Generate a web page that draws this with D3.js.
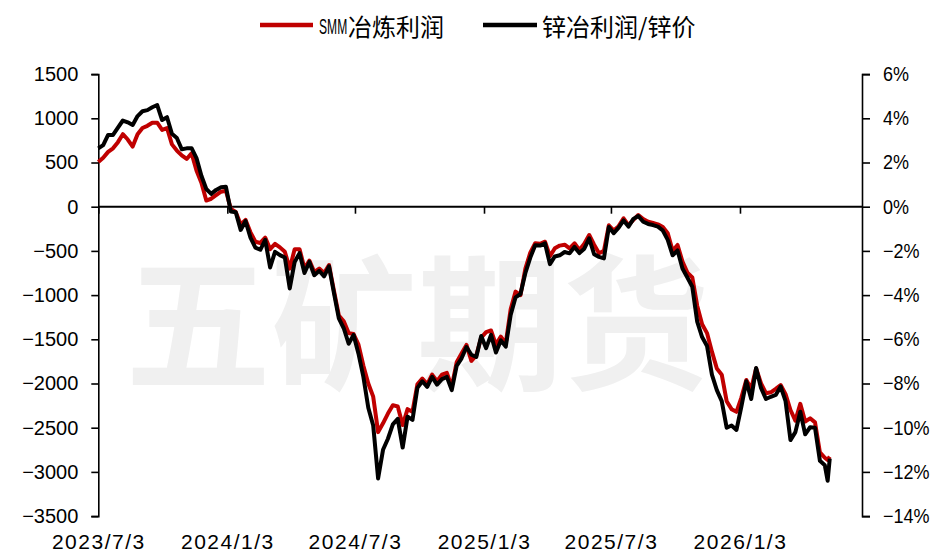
<!DOCTYPE html>
<html>
  <head>
    <meta charset="utf-8" />
    <title>锌冶炼利润</title>
    <style>
      body { margin: 0; background: #fff; }
      svg { display: block; }
      .tick text { font-family: "Liberation Sans", Arial, sans-serif; fill: #000; }
    </style>
  </head>
  <body>
    <svg id="chart" width="930" height="552"></svg>
    <script src="https://d3js.org/d3.v7.min.js"></script>
    <script>
      // weekly readings (dates shared by both series)
      const dates = [
        "2023-07-03","2023-07-10","2023-07-17","2023-07-24","2023-07-31","2023-08-07","2023-08-14","2023-08-21","2023-08-28",
        "2023-09-04","2023-09-11","2023-09-18","2023-09-25","2023-10-02","2023-10-09","2023-10-16","2023-10-23","2023-10-30",
        "2023-11-06","2023-11-13","2023-11-20","2023-11-27","2023-12-04","2023-12-11","2023-12-18","2023-12-25",
        "2024-01-01","2024-01-08","2024-01-15","2024-01-22","2024-01-29","2024-02-05","2024-02-12","2024-02-19","2024-02-26",
        "2024-03-04","2024-03-11","2024-03-18","2024-03-25","2024-04-01","2024-04-08","2024-04-15","2024-04-22","2024-04-29",
        "2024-05-06","2024-05-13","2024-05-20","2024-05-27","2024-06-03","2024-06-10","2024-06-17","2024-06-24",
        "2024-07-01","2024-07-08","2024-07-15","2024-07-22","2024-07-29","2024-08-05","2024-08-12","2024-08-19","2024-08-26",
        "2024-09-02","2024-09-09","2024-09-16","2024-09-23","2024-09-30","2024-10-07","2024-10-14","2024-10-21","2024-10-28",
        "2024-11-04","2024-11-11","2024-11-18","2024-11-25","2024-12-02","2024-12-09","2024-12-16","2024-12-23","2024-12-30",
        "2025-01-06","2025-01-13","2025-01-20","2025-01-27","2025-02-03","2025-02-10","2025-02-17","2025-02-24",
        "2025-03-03","2025-03-10","2025-03-17","2025-03-24","2025-03-31","2025-04-07","2025-04-14","2025-04-21","2025-04-28",
        "2025-05-05","2025-05-12","2025-05-19","2025-05-26","2025-06-02","2025-06-09","2025-06-16","2025-06-23","2025-06-30",
        "2025-07-07","2025-07-14","2025-07-21","2025-07-28","2025-08-04","2025-08-11","2025-08-18","2025-08-25",
        "2025-09-01","2025-09-08","2025-09-15","2025-09-22","2025-09-29","2025-10-06","2025-10-13","2025-10-20","2025-10-27",
        "2025-11-03","2025-11-10","2025-11-17","2025-11-24","2025-12-01","2025-12-08","2025-12-15","2025-12-22","2025-12-29",
        "2026-01-05","2026-01-12","2026-01-19","2026-01-26","2026-02-02","2026-02-09","2026-02-16","2026-02-23",
        "2026-03-02","2026-03-09","2026-03-16","2026-03-23","2026-03-30","2026-04-06","2026-04-13","2026-04-20","2026-04-27",
        "2026-05-04","2026-05-08","2026-05-11"
      ];

      // SMM冶炼利润 (元/吨, left axis)
      const smmProfit = [
        505, 554, 620, 660, 730, 820, 760, 680, 820,
        890, 915, 950, 950, 868, 890, 705, 635, 580,
        540, 604, 410, 270, 70, 90, 130, 170,
        180, -25, -60, -200, -150, -290, -396, -410, -350,
        -480, -420, -460, -510, -700, -480, -480, -700, -610,
        -740, -700, -750, -660, -950, -1230, -1295, -1430,
        -1440, -1560, -1800, -2000, -2149, -2550, -2450, -2340, -2245,
        -2260, -2470, -2290, -2320, -2010, -1945, -2010, -1900, -1975,
        -1900, -1880, -2036, -1760, -1660, -1564, -1745, -1680, -1480,
        -1420, -1400, -1560, -1470, -1546, -1160, -960, -1000,
        -700, -520, -414, -420, -396, -560, -470, -440, -430,
        -471, -414, -490, -420, -320, -430, -527, -500, -210,
        -270, -220, -131, -210, -150, -94, -140, -170,
        -185, -200, -230, -300, -500, -433, -620, -745, -800,
        -1120, -1330, -1430, -1640, -1830, -1900, -2200, -2290, -2320,
        -2160, -1960, -2060, -1830, -1998, -2110, -2100, -2060,
        -2017, -2120, -2300, -2420, -2230, -2430, -2394, -2440, -2780,
        -2840, -2865, -2827
      ];

      // 锌冶利润/锌价 (%, right axis)
      const profitRatio = [
        2.64, 2.79, 3.25, 3.25, 3.58, 3.9, 3.82, 3.7, 4.1,
        4.32, 4.37, 4.5, 4.6, 3.92, 4.05, 3.3, 3.11, 2.6,
        2.64, 2.65, 2.2, 1.4, 0.8, 0.58, 0.76, 0.88,
        0.9, -0.22, -0.25, -1.05, -0.65, -1.4, -1.85, -1.95, -1.5,
        -2.75, -2.04, -2.19, -2.3, -3.7, -2.5, -2.1, -3.0, -2.5,
        -3.1, -2.9, -3.15, -2.7, -3.9, -5.05, -5.5, -6.2,
        -5.8, -6.65, -7.7, -9.1, -9.9, -12.3, -11.0, -10.5, -9.85,
        -9.6, -10.9, -9.5, -9.65, -8.2, -7.9, -8.15, -7.7, -8.05,
        -7.8, -7.7, -8.3, -7.2, -6.86, -6.35, -6.7, -6.8, -5.85,
        -6.4, -5.8, -6.6, -6.05, -6.33, -4.9, -4.1, -3.95,
        -3.0, -2.3, -1.74, -1.76, -1.66, -2.6, -2.25, -2.2, -2.05,
        -2.11, -1.82, -2.1, -1.9, -1.43, -2.15, -2.27, -2.34, -0.92,
        -1.2, -0.95, -0.62, -0.9, -0.55, -0.42, -0.68, -0.78,
        -0.83, -0.9, -1.08, -1.5, -2.2, -1.98, -2.8, -3.2, -3.62,
        -5.2, -5.9, -6.3, -7.6, -8.3, -8.8, -10.0, -9.9, -10.1,
        -9.05, -7.9, -8.7, -7.3, -8.2, -8.7, -8.6, -8.52,
        -8.14, -8.8, -10.56, -10.2, -9.28, -10.3, -9.98, -10.0, -11.5,
        -11.7, -12.4, -11.4
      ];

      const xTicks = ["2023-07-03", "2024-01-03", "2024-07-03", "2025-01-03", "2025-07-03", "2026-01-03"];
      const leftTicks = [1500, 1000, 500, 0, -500, -1000, -1500, -2000, -2500, -3000, -3500];
      const rightTicks = [6, 4, 2, 0, -2, -4, -6, -8, -10, -12, -14];

      const parseDate = d3.timeParse("%Y-%m-%d");
      const svg = d3.select("#chart");

      const x = d3
        .scaleTime()
        .domain([parseDate("2023-07-03"), parseDate("2026-06-26")])
        .range([98.3, 862]);
      const yL = d3.scaleLinear().domain([-3500, 1500]).range([516.1, 74.1]);
      const yR = d3.scaleLinear().domain([-14, 6]).range([516.1, 74.1]);

      // watermark
      svg
        .append("text")
        .attr("x", 417)
        .attr("y", 314)
        .attr("text-anchor", "middle")
        .attr("dominant-baseline", "central")
        .style("font-family", "'Noto Sans CJK SC', sans-serif")
        .style("font-weight", "bold")
        .style("font-size", "146px")
        .style("fill", "#f0f0f0")
        .text("五矿期货");

      // left axis
      const axL = svg
        .append("g")
        .attr("transform", "translate(98.3,0)")
        .call(
          d3.axisLeft(yL).tickValues(leftTicks).tickSize(7).tickPadding(13).tickFormat(d3.format("d"))
        );
      axL.selectAll(".tick text").style("font-size", "20px");

      // right axis (labels a little narrower, as in the original)
      const axR = svg
        .append("g")
        .attr("transform", "translate(862,0)")
        .call(
          d3.axisRight(yR).tickValues(rightTicks).tickSize(8).tickPadding(12)
            .tickFormat((d) => d3.format("d")(d) + "%")
        );
      axR
        .selectAll(".tick text")
        .style("font-size", "20px")
        .attr("x", 21 / 0.9)
        .attr("transform", "scale(0.9,1)");

      [axL, axR].forEach((g) => {
        g.select(".domain").attr("stroke", "#000").attr("stroke-width", 1.6);
        g.selectAll(".tick line").attr("stroke", "#000").attr("stroke-width", 1.6);
      });

      // date axis sits on the zero line, labels at the bottom
      const axX = svg
        .append("g")
        .attr("transform", "translate(0," + yL(0) + ")")
        .call(
          d3.axisBottom(x).tickValues(xTicks.map(parseDate)).tickSize(7)
            .tickFormat(d3.timeFormat("%Y/%-m/%-d"))
        );
      axX.select(".domain").attr("stroke", "#000").attr("stroke-width", 2).attr("d", "M98.3,0H862");
      axX.selectAll(".tick line").attr("stroke", "#000").attr("stroke-width", 1.6);
      axX
        .selectAll(".tick text")
        .attr("y", 541.5 - yL(0))
        .attr("dy", "0.35em")
        .style("font-size", "21px")
        .style("letter-spacing", "1.5px");

      const rows = dates.map((d, i) => ({ date: parseDate(d), smm: smmProfit[i], ratio: profitRatio[i] }));

      const lineSmm = d3.line().x((d) => x(d.date)).y((d) => yL(d.smm));
      const lineRatio = d3.line().x((d) => x(d.date)).y((d) => yR(d.ratio));

      svg
        .append("path")
        .datum(rows)
        .attr("d", lineSmm)
        .attr("fill", "none")
        .attr("stroke", "#c00000")
        .attr("stroke-width", 4)
        .attr("stroke-linejoin", "round");

      svg
        .append("path")
        .datum(rows)
        .attr("d", lineRatio)
        .attr("fill", "none")
        .attr("stroke", "#000")
        .attr("stroke-width", 4)
        .attr("stroke-linejoin", "round");

      // legend
      const legend = svg.append("g");
      legend.append("line").attr("x1", 260).attr("x2", 313).attr("y1", 25).attr("y2", 25)
        .attr("stroke", "#c00000").attr("stroke-width", 4.5);
      legend.append("text")
        .attr("transform", "translate(319,33.5) scale(0.55,1)")
        .style("font-family", "'Liberation Sans', Arial, sans-serif").style("font-size", "22px")
        .text("SMM");
      legend.append("text").attr("x", 348).attr("y", 25).attr("dominant-baseline", "central")
        .style("font-family", "'Noto Sans CJK SC', sans-serif").style("font-size", "24px")
        .text("冶炼利润");
      legend.append("line").attr("x1", 483).attr("x2", 537).attr("y1", 25).attr("y2", 25)
        .attr("stroke", "#000").attr("stroke-width", 4.5);
      legend.append("text").attr("x", 542).attr("y", 25).attr("dominant-baseline", "central")
        .style("font-family", "'Noto Sans CJK SC', sans-serif").style("font-size", "24px")
        .text("锌冶利润/锌价");
    </script>
  </body>
</html>
